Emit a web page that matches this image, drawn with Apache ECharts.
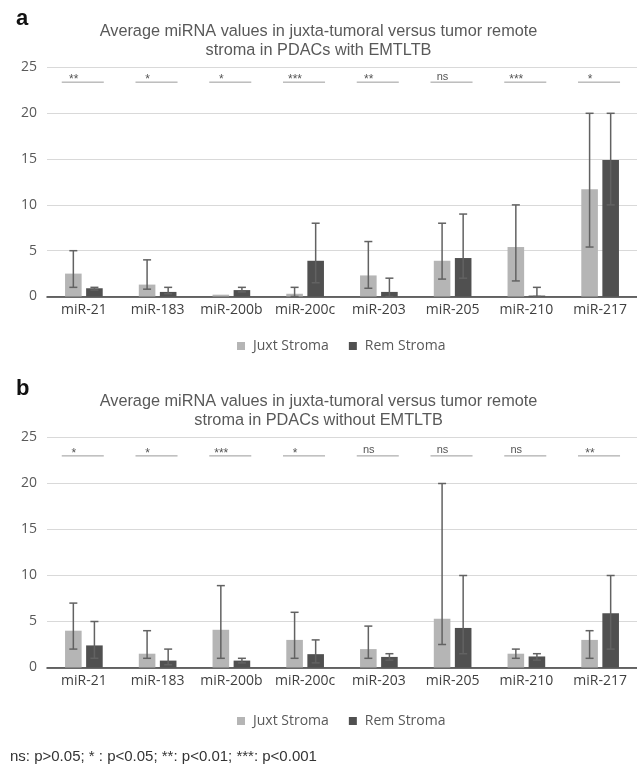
<!DOCTYPE html>
<html>
<head>
<meta charset="UTF-8">
<title>miRNA stroma</title>
<script src="https://cdn.jsdelivr.net/npm/echarts@6/dist/echarts.min.js"></script>
<style>
  body{ margin:0; background:#fff; }
  #main{ width:637px; height:769px; }
</style>
</head>
<body>
<div id="main"></div>
<script>
var categories = ['miR-21','miR-183','miR-200b','miR-200c','miR-203','miR-205','miR-210','miR-217'];

// panel a: with EMTLTB
var juxtA = [2.5, 1.3, 0.2, 0.3, 2.3, 3.9, 5.4, 11.7];
var remA  = [0.9, 0.5, 0.7, 3.9, 0.5, 4.2, 0.1, 14.9];
var juxtALow  = [1, 0.8, null, 0, 0.9, 1.9, 1.7, 5.4];
var juxtAHigh = [5, 4, null, 1, 6, 8, 10, 20];
var remALow   = [0.7, 0.3, 0.5, 1.5, 0, 2, 0, 10];
var remAHigh  = [1, 1, 1, 8, 2, 9, 1, 20];
var sigA = ['**','*','*','***','**','ns','***','*'];

// panel b: without EMTLTB
var juxtB = [4.0, 1.5, 4.1, 3.0, 2.0, 5.3, 1.5, 3.0];
var remB  = [2.4, 0.75, 0.75, 1.45, 1.15, 4.3, 1.2, 5.9];
var juxtBLow  = [2, 1, 1, 1, 1, 2.5, 1, 1];
var juxtBHigh = [7, 4, 8.9, 6, 4.5, 20, 2, 4];
var remBLow   = [1, 0.3, 0.5, 0.5, 0.8, 1.5, 0.8, 2];
var remBHigh  = [5, 2, 1, 3, 1.5, 10, 1.5, 10];
var sigB = ['*','*','***','*','ns','ns','ns','**'];

var yTicks = [0, 5, 10, 15, 20, 25];

var BAR_W = 0.225, BAR_GAP = 0.27;
var OFF = BAR_W * (1 + BAR_GAP) / 2;
var cJuxt = '#b5b5b5', cRem = '#505050';
var sansUI = 'Open Sans';
var sansT = 'Liberation Sans';

function errData(lo, hi){
  var out = [];
  for (var i = 0; i < lo.length; i++) {
    if (lo[i] != null) out.push([i, lo[i], hi[i]]);
  }
  return out;
}

function errItem(side){
  return function(params, api){
    var idx = api.value(0);
    var lo = api.coord([idx, api.value(1)]);
    var hi = api.coord([idx, api.value(2)]);
    var band = api.size([1, 0])[0];
    var x = lo[0] + side * band * OFF;
    var st = { stroke:'#626262', lineWidth:1.5 };
    return { type:'group', children:[
      { type:'line', shape:{x1:x, y1:lo[1], x2:x, y2:hi[1]}, style:st },
      { type:'line', shape:{x1:x-4, y1:hi[1], x2:x+4, y2:hi[1]}, style:st },
      { type:'line', shape:{x1:x-4, y1:lo[1], x2:x+4, y2:lo[1]}, style:st }
    ]};
  };
}

function sigItem(sig){
  return function(params, api){
    var idx = api.value(0);
    var p = api.coord([idx, api.value(1)]);
    var band = api.size([1, 0])[0];
    var x1 = p[0] - band * 0.3, x2 = p[0] + band * 0.27;
    var lab = sig[idx];
    return { type:'group', children:[
      { type:'line', shape:{x1:x1, y1:p[1], x2:x2, y2:p[1]}, style:{stroke:'#9a9a9a', lineWidth:1} },
      { type:'text', x:x1 + 12, y:p[1] + (lab == 'ns' ? 0 : 4),
        style:{ text:lab, textAlign:'center', textVerticalAlign:'bottom',
                fontSize: lab == 'ns' ? 11 : 12, fontFamily:sansT, fill:'#555' } }
    ]};
  };
}

function sigData(arr, level){
  return arr.map(function(s, i){ return [i, level]; });
}

function xAx(gi){
  return {
    type:'category', gridIndex:gi, data:categories,
    axisLine:{ lineStyle:{ color:'#3a3a3a', width:1.5 } },
    axisTick:{ show:false },
    axisLabel:{ fontSize:14, color:'#404040', fontFamily:sansUI, margin:7, interval:0 }
  };
}
function yAx(gi){
  return {
    type:'value', gridIndex:gi, min:yTicks[0], max:yTicks[yTicks.length-1], interval:5,
    axisLine:{ show:false }, axisTick:{ show:false },
    splitLine:{ lineStyle:{ color:'#d9d9d9', width:1 } },
    axisLabel:{ fontSize:14, color:'#595959', fontFamily:sansUI, margin:10 }
  };
}

function panelSeries(gi, juxt, rem, jl, jh, rl, rh, sig, level){
  return [
    { name:'Juxt Stroma', type:'bar', xAxisIndex:gi, yAxisIndex:gi, data:juxt,
      barWidth:(BAR_W*100)+'%', barGap:(BAR_GAP*100)+'%', itemStyle:{ color:cJuxt } },
    { name:'Rem Stroma', type:'bar', xAxisIndex:gi, yAxisIndex:gi, data:rem,
      barWidth:(BAR_W*100)+'%', barGap:(BAR_GAP*100)+'%', itemStyle:{ color:cRem } },
    { type:'custom', xAxisIndex:gi, yAxisIndex:gi, renderItem:errItem(-1),
      data:errData(jl, jh), encode:{ x:0, y:[1,2] }, z:5, silent:true },
    { type:'custom', xAxisIndex:gi, yAxisIndex:gi, renderItem:errItem(1),
      data:errData(rl, rh), encode:{ x:0, y:[1,2] }, z:5, silent:true },
    { type:'custom', xAxisIndex:gi, yAxisIndex:gi, renderItem:sigItem(sig),
      data:sigData(sig, level), encode:{ x:0, y:1 }, z:5, silent:true, clip:false }
  ];
}

var legendBase = {
  data:['Juxt Stroma','Rem Stroma'], icon:'rect', itemWidth:8, itemHeight:8, itemGap:20,
  left:232, selectedMode:false,
  textStyle:{ fontSize:14, color:'#595959', fontFamily:sansUI, padding:[0,0,0,3] }
};

var myChart = echarts.init(document.getElementById('main'));
var option = {
  animation:false,
  title:[
    { text:'a', left:11, top:3, textStyle:{ fontSize:22, fontWeight:'bold', color:'#111', fontFamily:sansT } },
    { text:'Average miRNA values in juxta-tumoral versus tumor remote\nstroma in PDACs with EMTLTB',
      left:'center', top:17, textStyle:{ fontSize:16.3, fontWeight:'normal', lineHeight:19, color:'#595959', fontFamily:sansT } },
    { text:'b', left:11, top:373, textStyle:{ fontSize:22, fontWeight:'bold', color:'#111', fontFamily:sansT } },
    { text:'Average miRNA values in juxta-tumoral versus tumor remote\nstroma in PDACs without EMTLTB',
      left:'center', top:387, textStyle:{ fontSize:16.3, fontWeight:'normal', lineHeight:19, color:'#595959', fontFamily:sansT } },
    { text:'ns: p>0.05; * : p<0.05; **: p<0.01; ***: p<0.001',
      left:5, top:744, textStyle:{ fontSize:15, fontWeight:'normal', color:'#333', fontFamily:sansT } }
  ],
  legend:[
    echarts.util.merge({ top:334 }, legendBase, true),
    echarts.util.merge({ top:709 }, legendBase, true)
  ],
  grid:[
    { left:47, right:0, top:67.5, height:229 },
    { left:47, right:0, top:437.5, height:230 }
  ],
  xAxis:[ xAx(0), xAx(1) ],
  yAxis:[ yAx(0), yAx(1) ],
  series: panelSeries(0, juxtA, remA, juxtALow, juxtAHigh, remALow, remAHigh, sigA, 23.4)
    .concat(panelSeries(1, juxtB, remB, juxtBLow, juxtBHigh, remBLow, remBHigh, sigB, 23))
};
myChart.setOption(option);
</script>
</body>
</html>
